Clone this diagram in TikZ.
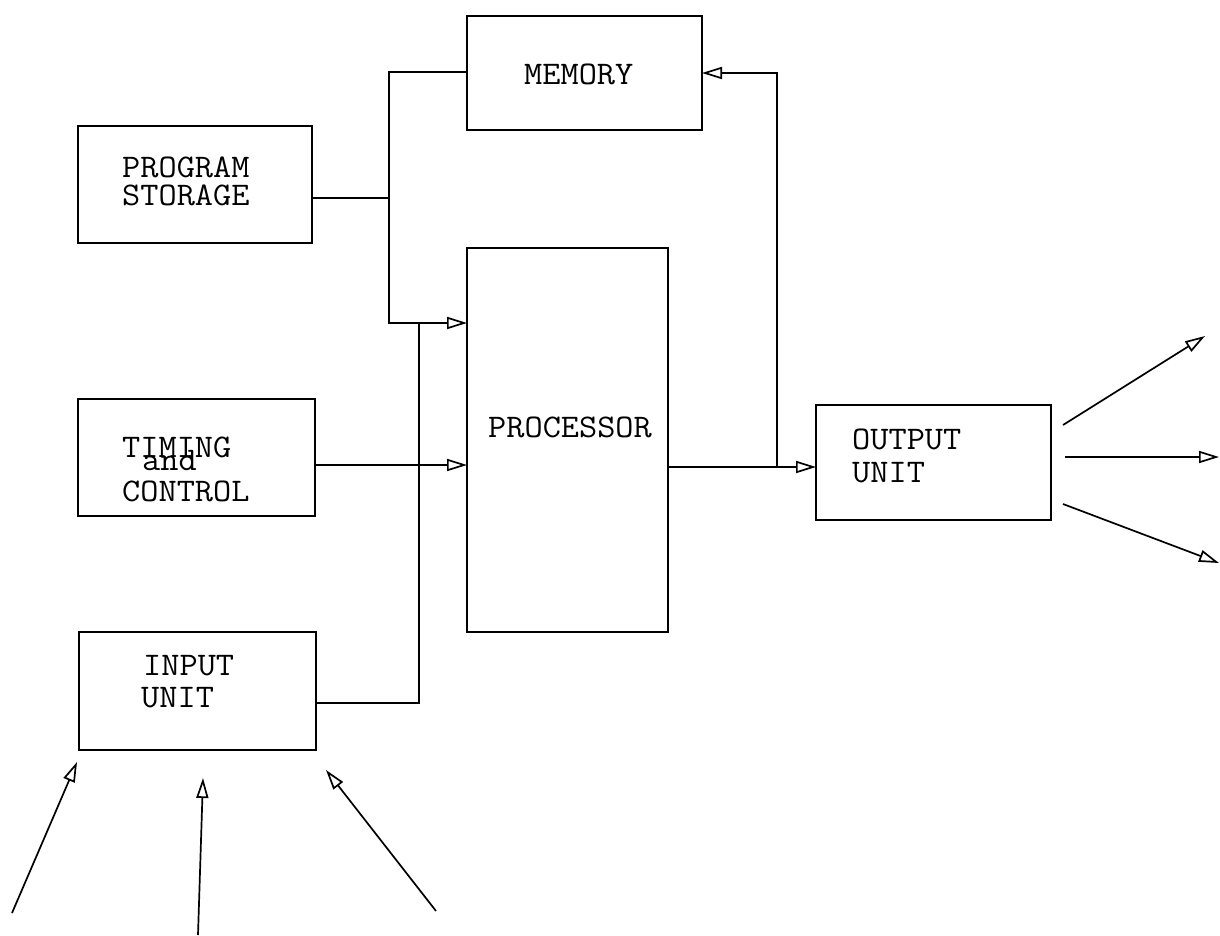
\documentclass[tikz,border=0pt]{standalone}
\usetikzlibrary{arrows.meta}
\newcommand{\tw}[1]{\scalebox{1.07}[1]{\fontsize{33}{35}\selectfont\ttfamily #1}}
\begin{document}
\begin{tikzpicture}[x=1pt,y=-1pt,
  box/.style={draw, line width=1.7pt, rectangle, inner sep=0pt, outer sep=0pt, anchor=north west},
  lbl/.style={anchor=base west, inner sep=0pt, text depth=0pt},
  wire/.style={line width=1.7pt},
  arr/.style={line width=1.7pt, -{Triangle[open, length=20pt, width=12pt, line width=1.7pt]}}]
\useasboundingbox (0,0) rectangle (1220,936);
% boxes
\node[box, minimum width=235pt, minimum height=114pt] (mem) at (467,16) {};
\node[box, minimum width=234pt, minimum height=117pt] (ps) at (78,126) {};
\node[box, minimum width=201pt, minimum height=384pt] (proc) at (467,248) {};
\node[box, minimum width=237pt, minimum height=117pt] (tc) at (78,399) {};
\node[box, minimum width=237pt, minimum height=118pt] (inp) at (79,632) {};
\node[box, minimum width=235pt, minimum height=115pt] (out) at (816,405) {};
% labels
\node[lbl] (tmem) at (524,85) {\tw{MEMORY}};
\node[lbl] (tps1) at (122,178) {\tw{PROGRAM}};
\node[lbl] (tps2) at (122,205) {\tw{STORAGE}};
\node[lbl] (tproc) at (488,437) {\tw{PROCESSOR}};
\node[lbl] (ttc1) at (122,457) {\tw{TIMING}};
\node[lbl] (ttc2) at (142,470) {\tw{and}};
\node[lbl] (ttc3) at (122,501) {\tw{CONTROL}};
\node[lbl] (tin1) at (143,675) {\tw{INPUT}};
\node[lbl] (tin2) at (141,707) {\tw{UNIT}};
\node[lbl] (tout1) at (852,449) {\tw{OUTPUT}};
\node[lbl] (tout2) at (852,482) {\tw{UNIT}};
% junction coordinates
\coordinate (jl) at (389,323);
\coordinate (ji) at (419,323);
\coordinate (jm) at (777,467);
% connectors
\draw[arr] (mem.west |- 0,72) -| (jl) -- (proc.west |- jl);
\draw[wire] (ps.east |- 0,198) -- (jl |- 0,198);
\draw[wire] (inp.east |- 0,703) -| (ji);
\draw[arr] (tc.east |- 0,465) -- (proc.west |- 0,465);
\draw[arr] (proc.east |- jm) -- (out.west |- jm);
\draw[arr] (jm) |- (mem.east |- 0,73);
% output fan
\coordinate (os1) at (1063,425); \coordinate (oe1) at (1205,336);
\coordinate (os2) at (1065,457); \coordinate (oe2) at (1219,457);
\coordinate (os3) at (1063,504); \coordinate (oe3) at (1219,563);
\draw[arr] (os1) -- (oe1);
\draw[arr] (os2) -- (oe2);
\draw[arr] (os3) -- (oe3);
% input fan
\coordinate (is1) at (12,913); \coordinate (ie1) at (77,762);
\coordinate (is2) at (198,935); \coordinate (ie2) at (203,778);
\coordinate (is3) at (436,911); \coordinate (ie3) at (326,770);
\draw[arr] (is1) -- (ie1);
\draw[arr] (is2) -- (ie2);
\draw[arr] (is3) -- (ie3);
\end{tikzpicture}
\end{document}
